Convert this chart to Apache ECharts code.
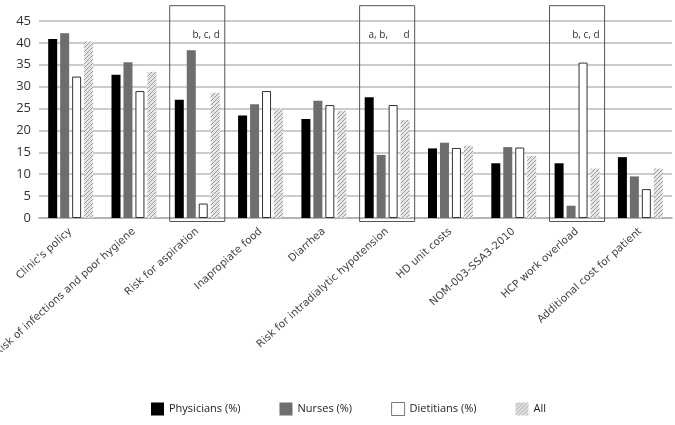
<!DOCTYPE html>
<html>
<head>
<meta charset="utf-8">
<script src="https://cdn.jsdelivr.net/npm/echarts@6/dist/echarts.min.js"></script>
<style>
  html, body { margin: 0; padding: 0; background: #fff; }
  #chart { width: 675px; height: 425px; }
</style>
</head>
<body>
<div id="chart"></div>
<script>
var categories = ["Clinic's policy", 'Risk of infections and poor hygiene', 'Risk for aspiration',
  'Inapropiate food', 'Diarrhea', 'Risk for intradialytic hypotension', 'HD unit costs',
  'NOM-003-SSA3-2010', 'HCP work overload', 'Additional cost for patient']
var physicians = [40.9, 32.7, 27.0, 23.4, 22.6, 27.6, 15.9, 12.5, 12.5, 13.9]
var nurses = [42.2, 35.6, 38.3, 26.0, 26.8, 14.4, 17.2, 16.2, 2.8, 9.5]
var dietitians = [32.3, 29.0, 3.3, 29.0, 25.8, 25.8, 16.0, 16.1, 35.5, 6.6]
var allResp = [40.3, 33.4, 28.6, 25.0, 24.5, 22.4, 16.5, 14.2, 11.3, 11.3]
// significance boxes
var boxCats = ['Risk for aspiration', 'Risk for intradialytic hypotension', 'HCP work overload']
var boxLabels = ['b, c, d', 'a, b,      d', 'b, c, d']

// diagonal hatch for "All"
function hatch () {
  var c = document.createElement('canvas')
  c.width = 4
  c.height = 4
  var ctx = c.getContext('2d')
  ctx.fillStyle = '#e6e6e6'
  ctx.fillRect(0, 0, 4, 4)
  ctx.strokeStyle = '#9a9a9a'
  ctx.lineWidth = 1
  ctx.beginPath()
  ctx.moveTo(0, 4); ctx.lineTo(4, 0)
  ctx.moveTo(-1, 1); ctx.lineTo(1, -1)
  ctx.moveTo(3, 5); ctx.lineTo(5, 3)
  ctx.stroke()
  return c
}
var hatchFill = { image: hatch(), repeat: 'repeat' }

var myChart = echarts.init(document.getElementById('chart'))
var font = '"Open Sans", "DejaVu Sans", sans-serif'
var labelFont = '"DejaVu Sans", sans-serif'

var option = {
  animation: false,
  textStyle: { fontFamily: font },
  grid: { left: 39, right: 3, top: 21, bottom: 207, outerBoundsMode: 'none', containLabel: false },
  legend: {
    bottom: 4,
    left: 146,
    itemWidth: 13,
    itemHeight: 13,
    itemGap: 39,
    icon: 'rect',
    textStyle: { fontSize: 11, color: '#222', fontFamily: font },
    data: [
      { name: 'Physicians (%)' },
      { name: 'Nurses (%)' },
      { name: 'Dietitians (%)', itemStyle: { borderColor: '#777', borderWidth: 1 } },
      { name: 'All' }
    ]
  },
  xAxis: {
    type: 'category',
    data: categories,
    axisLine: { lineStyle: { color: '#aaa', width: 1.5 } },
    axisTick: { show: false },
    axisLabel: { rotate: 42, fontSize: 10.5, color: '#444', margin: 12, interval: 0, fontFamily: labelFont }
  },
  yAxis: {
    type: 'value',
    min: 0,
    max: 45,
    interval: 5,
    axisLine: { show: false },
    axisTick: { show: false },
    axisLabel: { fontSize: 13, color: '#333', margin: 8 },
    splitLine: { lineStyle: { color: '#bbb', width: 1.5 } }
  },
  series: [
    {
      name: 'Physicians (%)', type: 'bar', data: physicians,
      barWidth: 9, barGap: '33%',
      itemStyle: { color: '#000' }
    },
    {
      name: 'Nurses (%)', type: 'bar', data: nurses,
      barWidth: 9, barGap: '33%',
      itemStyle: { color: '#6e6e6e' }
    },
    {
      name: 'Dietitians (%)', type: 'bar', data: dietitians,
      barWidth: 9, barGap: '33%',
      itemStyle: { color: '#fff', borderColor: '#333', borderWidth: 1 }
    },
    {
      name: 'All', type: 'bar', data: allResp,
      barWidth: 9, barGap: '33%',
      itemStyle: { color: hatchFill }
    },
    {
      type: 'custom',
      clip: false,
      silent: true,
      z: 5,
      data: boxCats.map(function (c, i) { return [c, 45, boxLabels[i]] }),
      renderItem: function (params, api) {
        var idx = params.dataIndex
        var center = api.coord([api.value(0), 0])
        var bw = api.size([1, 0])[0] * 0.87
        var top = api.coord([api.value(0), 48.5])[1]
        var bottom = api.coord([api.value(0), -0.8])[1]
        var left = center[0] - bw / 2
        return {
          type: 'group',
          children: [
            {
              type: 'rect',
              shape: { x: left, y: top, width: bw, height: bottom - top },
              style: { fill: 'none', stroke: '#555', lineWidth: 1 }
            },
            {
              type: 'text',
              style: {
                text: boxLabels[idx],
                x: left + bw - 5,
                y: api.coord([api.value(0), 41.8])[1],
                align: 'right',
                verticalAlign: 'middle',
                fill: '#333',
                font: '10px ' + font
              }
            }
          ]
        }
      }
    }
  ]
}
myChart.setOption(option)
</script>
</body>
</html>
